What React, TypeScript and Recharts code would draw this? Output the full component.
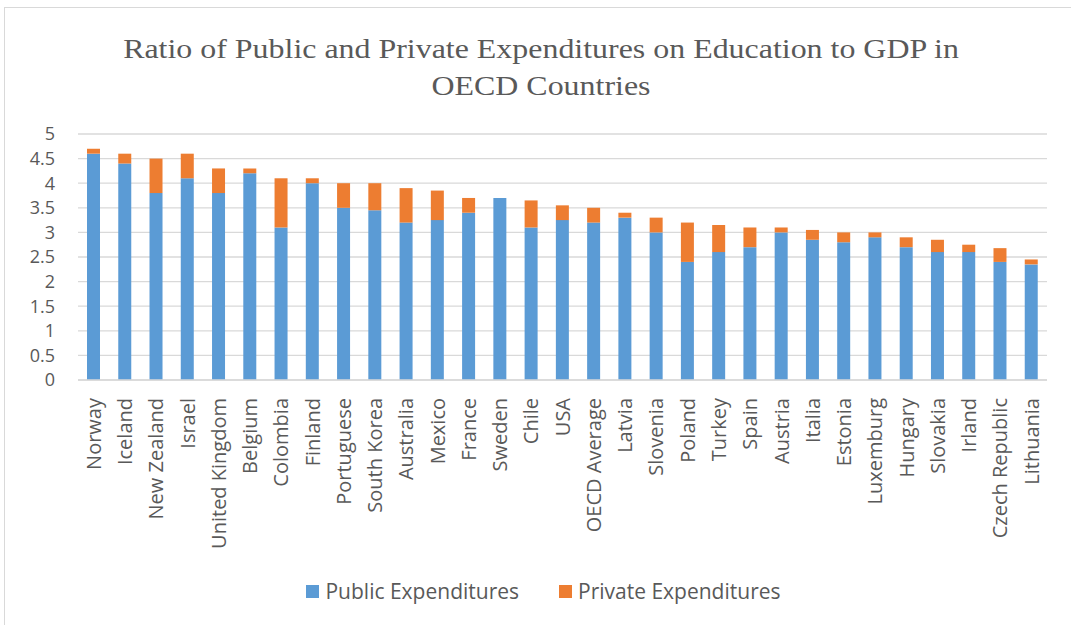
import React from "react";
import { BarChart, Bar, XAxis, YAxis, CartesianGrid, Legend } from "recharts";

const countries = [
  "Norway", "Iceland", "New Zealand", "Israel", "United Kingdom", "Belgium",
  "Colombia", "Finland", "Portuguese", "South Korea", "Australia", "Mexico",
  "France", "Sweden", "Chile", "USA", "OECD Average", "Latvia", "Slovenia",
  "Poland", "Turkey", "Spain", "Austria", "Italia", "Estonia", "Luxemburg",
  "Hungary", "Slovakia", "Irland", "Czech Republic", "Lithuania",
];

const publicExp = [
  4.6, 4.4, 3.8, 4.1, 3.8, 4.2, 3.1, 4.0, 3.5, 3.45, 3.2, 3.25, 3.4, 3.7, 3.1,
  3.25, 3.2, 3.3, 3.0, 2.4, 2.6, 2.7, 3.0, 2.85, 2.8, 2.9, 2.7, 2.6, 2.6, 2.4, 2.35,
];

const privateExp = [
  0.1, 0.2, 0.7, 0.5, 0.5, 0.1, 1.0, 0.1, 0.5, 0.55, 0.7, 0.6, 0.3, 0, 0.55,
  0.3, 0.3, 0.1, 0.3, 0.8, 0.55, 0.4, 0.1, 0.2, 0.2, 0.1, 0.2, 0.25, 0.15, 0.28, 0.1,
];

const yTicks = [0, 0.5, 1, 1.5, 2, 2.5, 3, 3.5, 4, 4.5, 5];

const seriesOrder = ["Public Expenditures", "Private Expenditures"];

const data = countries.map((name, i) => ({
  name,
  pub: publicExp[i],
  priv: privateExp[i],
}));

const FONT = "'Open Sans', 'Noto Sans', sans-serif";
const TEXT = "#595959";

function CountryTick({ x, y, payload }: any) {
  return (
    <g transform={`translate(${x},${y + 16}) rotate(-90)`}>
      <text x={0} y={0} dy="0.36em" textAnchor="end" fill={TEXT} fontSize={20} fontFamily={FONT}>
        {payload.value}
      </text>
    </g>
  );
}

function LegendContent({ payload }: any) {
  const items = [...(payload || [])].sort(
    (a: any, b: any) => seriesOrder.indexOf(a.value) - seriesOrder.indexOf(b.value)
  );
  return (
    <div style={{ display: "flex", justifyContent: "center", lineHeight: "22px", fontFamily: FONT, fontSize: 21, color: TEXT, paddingLeft: 12 }}>
      {items.map((p: any) => (
        <span key={p.value} style={{ display: "inline-flex", alignItems: "center", margin: "0 20px" }}>
          <span style={{ width: 13, height: 13, background: p.color, marginRight: 6, display: "inline-block" }} />
          {p.value}
        </span>
      ))}
    </div>
  );
}

export default function App() {
  return (
    <div style={{ position: "absolute", left: 0, top: 0, width: 1071, height: 625, overflow: "hidden", background: "#fff" }}>
      <div style={{ position: "absolute", left: 4, top: 7, width: 1090, height: 640, border: "1px solid #d9d9d9" }} />
      <div
        style={{
          position: "absolute", left: 10, top: 30, width: 1062, textAlign: "center",
          fontFamily: "'Liberation Serif', 'Times New Roman', serif", fontSize: 28,
          lineHeight: "37px", color: TEXT, transform: "scaleX(1.14)",
        }}
      >
        Ratio of Public and Private Expenditures on Education to GDP in
        <br />
        OECD Countries
      </div>
      <div style={{ position: "absolute", left: 0, top: 0 }}>
        <BarChart
          width={1071}
          height={625}
          data={data}
          barSize={13}
          margin={{ top: 134, right: 24, left: 28, bottom: 0 }}
        >
          <CartesianGrid vertical={false} stroke="#d9d9d9" strokeWidth={1.3} />
          <XAxis
            dataKey="name"
            interval={0}
            height={200}
            tickLine={false}
            tickSize={0}
            axisLine={{ stroke: "#d9d9d9", strokeWidth: 1.3 }}
            tick={<CountryTick />}
          />
          <YAxis
            domain={[0, 5]}
            ticks={yTicks}
            interval={0}
            width={50}
            tickSize={0}
            tickMargin={23}
            axisLine={false}
            tickLine={false}
            tick={{ fill: TEXT, fontSize: 18, fontFamily: FONT }}
          />
          <Legend
            verticalAlign="bottom"
            wrapperStyle={{ height: 45 }}
            content={<LegendContent />}
          />
          <Bar dataKey="pub" name="Public Expenditures" stackId="a" fill="#5b9bd5" isAnimationActive={false} />
          <Bar dataKey="priv" name="Private Expenditures" stackId="a" fill="#ed7d31" isAnimationActive={false} />
        </BarChart>
      </div>
    </div>
  );
}
